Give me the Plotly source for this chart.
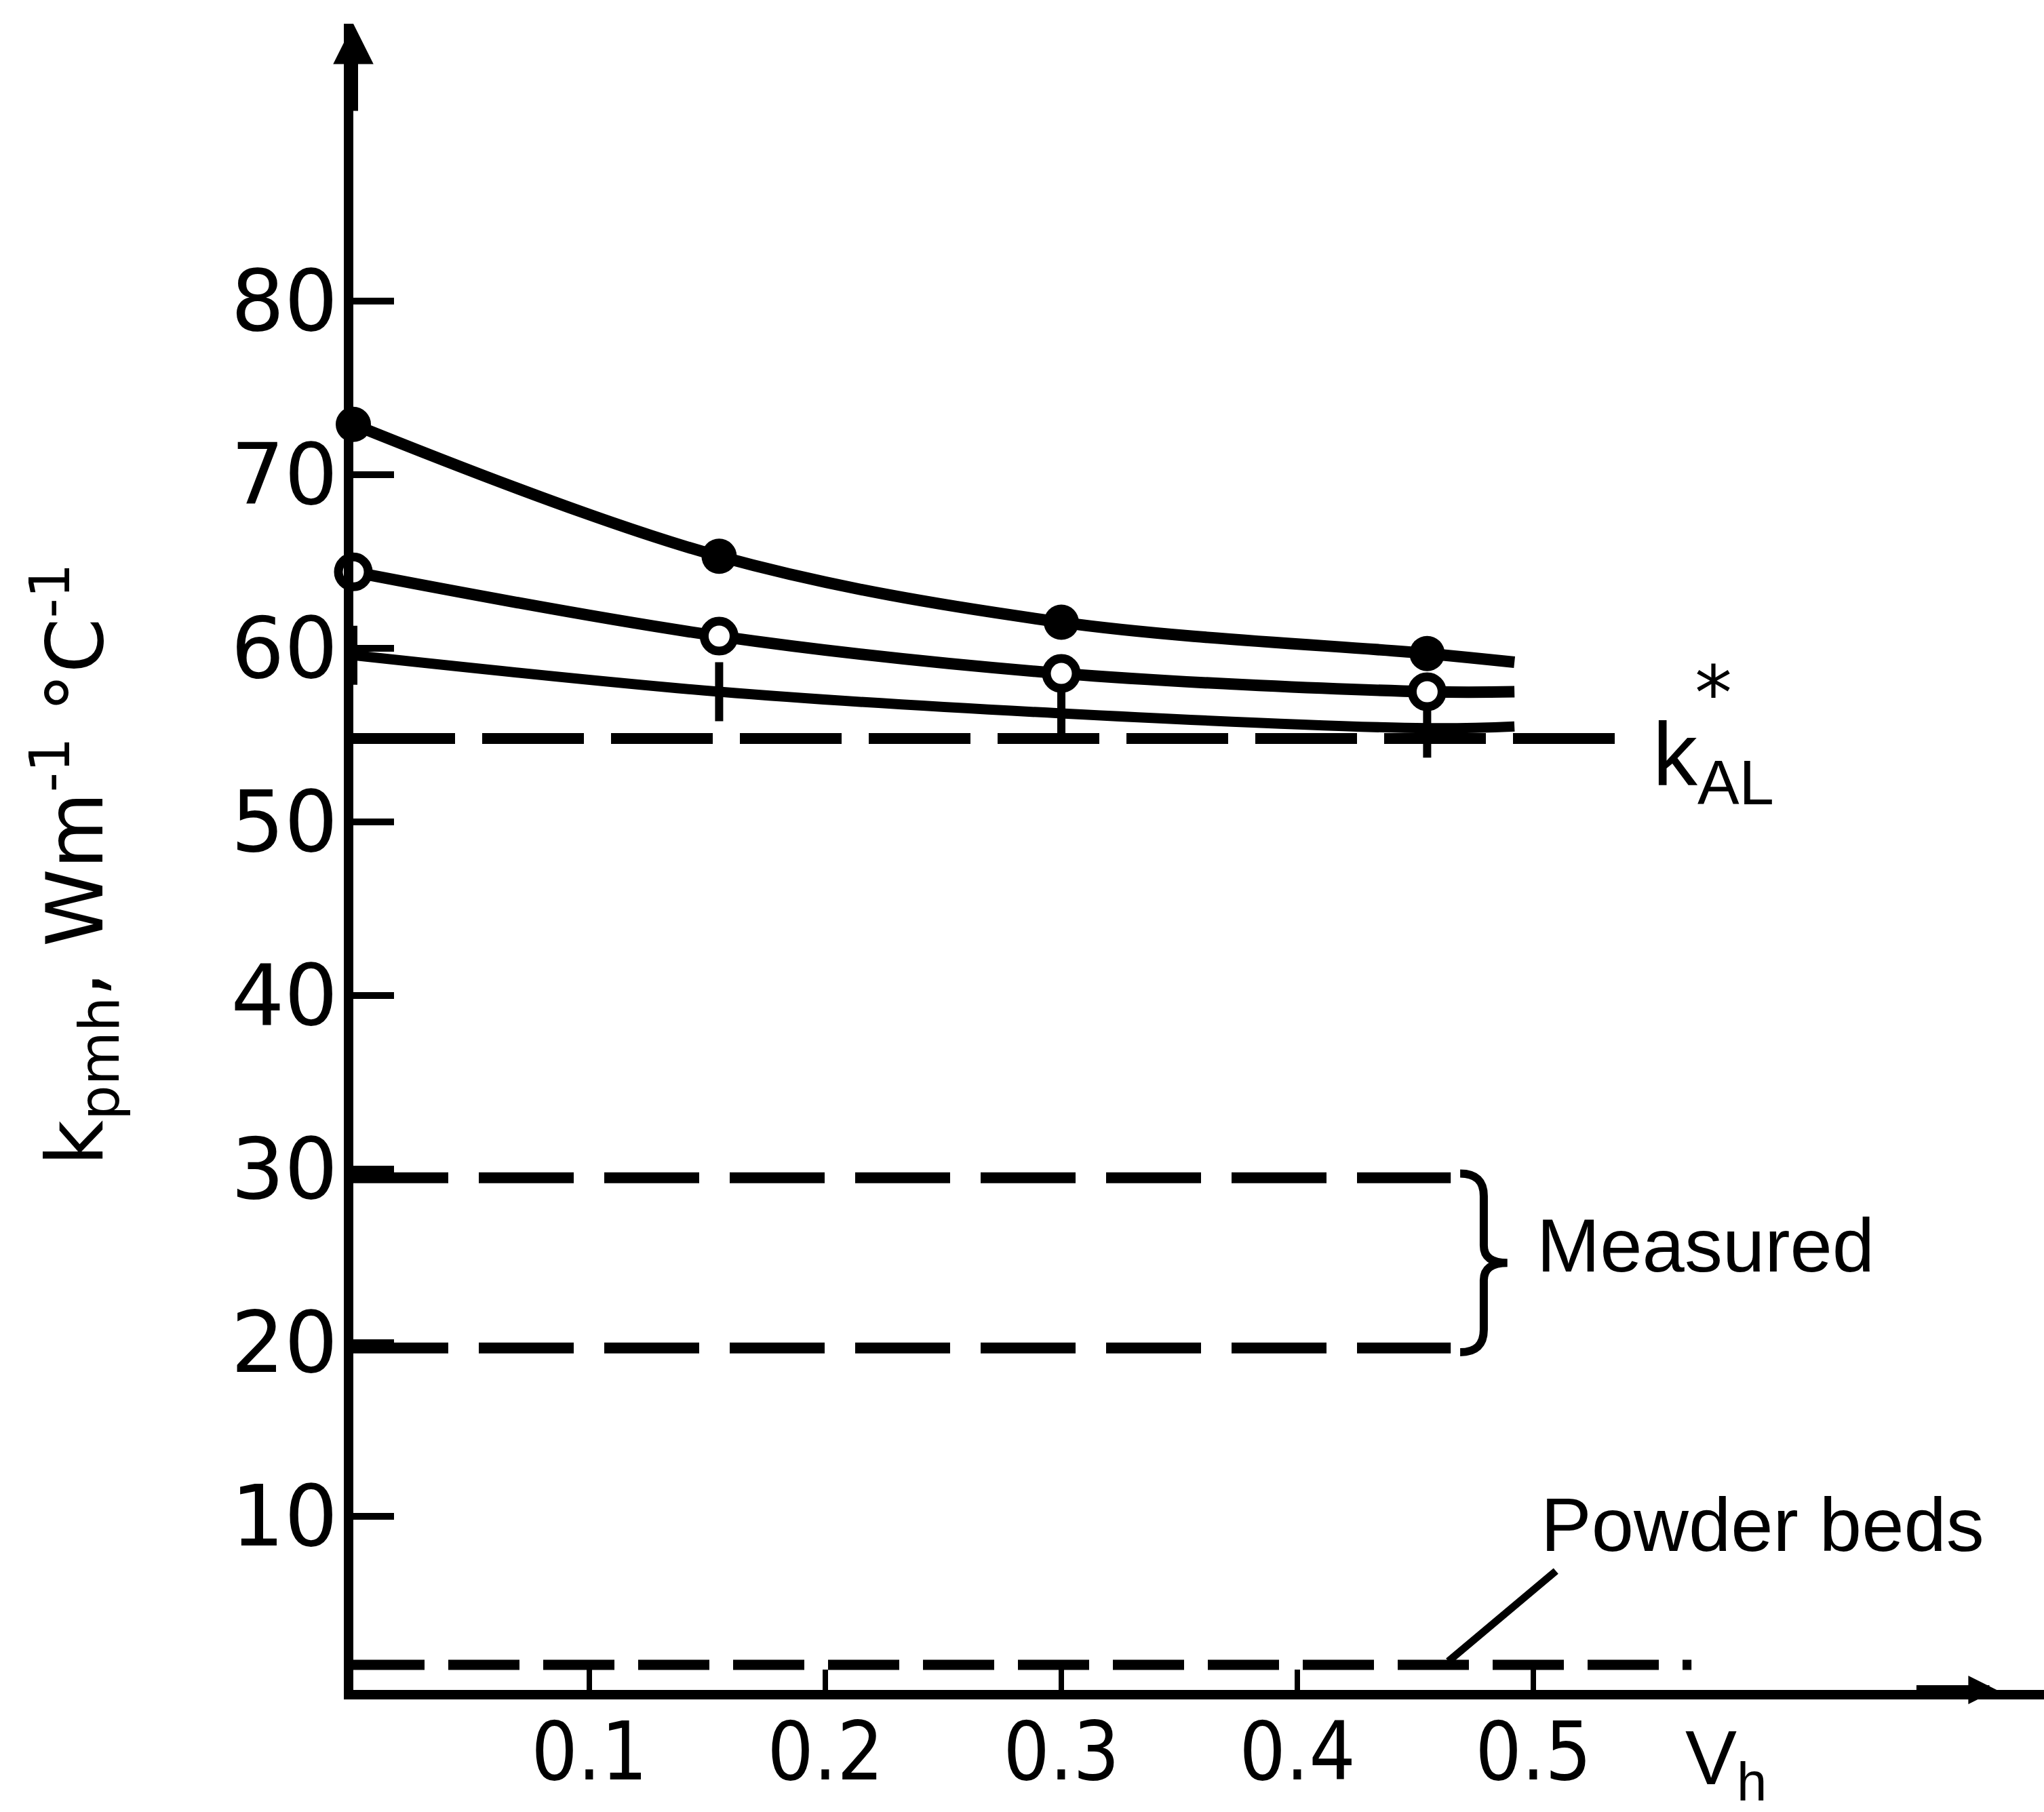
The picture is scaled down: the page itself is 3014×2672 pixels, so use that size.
import plotly.graph_objects as go

# ---- data ----
vh_points = [0.0, 0.155, 0.30, 0.455]
k_solid = [72.9, 65.3, 61.5, 59.7]
k_open = [64.4, 60.7, 58.55, 57.5]
k_cross = [59.6, 57.5, 56.25, 55.4]

vh_curve_end = 0.492
k_solid_end = 59.2
k_open_end = 57.5
k_cross_end = 55.5

k_al = 54.8
k_al_xend = 0.54

measured_k = [29.5, 19.7]
measured_xend = 0.465

powder_k = 1.45
powder_xend = 0.567

x_tickvals = [0.1, 0.2, 0.3, 0.4, 0.5]
x_ticktext = ["0.1", "0.2", "0.3", "0.4", "0.5"]
y_tickvals = [10, 20, 30, 40, 50, 60, 70, 80]

# ---- layout geometry ----
W, H = 3014, 2672
ML, MR, MT, MB = 521, 0, 35, 180
PW, PH = W - ML - MR, H - MT - MB
X_RANGE = [0, PW / 3480.0]
Y_RANGE = [0, PH / 25.6]

BLACK = "black"
NARROW = "DejaVu Sans Condensed, Liberation Sans Narrow, Arial Narrow, Liberation Sans, sans-serif"
fig = go.Figure()

# k_AL dashed line
fig.add_trace(go.Scatter(x=[0, k_al_xend], y=[k_al, k_al], mode="lines",
                         line=dict(color=BLACK, width=16, dash="150px,40px"),
                         hoverinfo="skip", showlegend=False))
# measured dashed lines
for kv in measured_k:
    fig.add_trace(go.Scatter(x=[0, measured_xend], y=[kv, kv], mode="lines",
                             line=dict(color=BLACK, width=16, dash="140px,45px"),
                             hoverinfo="skip", showlegend=False))
# powder beds dashed line
fig.add_trace(go.Scatter(x=[0, powder_xend], y=[powder_k, powder_k], mode="lines",
                         line=dict(color=BLACK, width=15, dash="105px,35px"),
                         hoverinfo="skip", showlegend=False))

# curves
for ys, yend, w in [(k_solid, k_solid_end, 17), (k_open, k_open_end, 17), (k_cross, k_cross_end, 15)]:
    fig.add_trace(go.Scatter(x=vh_points + [vh_curve_end], y=ys + [yend], mode="lines",
                             line=dict(color=BLACK, width=w, shape="spline", smoothing=1.0),
                             hoverinfo="skip", showlegend=False))

# markers
fig.add_trace(go.Scatter(x=vh_points, y=k_cross, mode="markers",
                         marker=dict(symbol="line-ns", size=62, line=dict(color=BLACK, width=12)),
                         showlegend=False, cliponaxis=False))
fig.add_trace(go.Scatter(x=vh_points, y=k_open, mode="markers",
                         marker=dict(symbol="circle", size=44, color="white",
                                     line=dict(color=BLACK, width=13)),
                         showlegend=False, cliponaxis=False))
fig.add_trace(go.Scatter(x=vh_points, y=k_solid, mode="markers",
                         marker=dict(symbol="circle", size=52, color=BLACK,
                                     line=dict(color=BLACK, width=0)),
                         showlegend=False, cliponaxis=False))

# brace for "Measured"
top = measured_k[0] + 0.25
bot = measured_k[1] - 0.25
mid = (top + bot) / 2
x0, x1, xt = measured_xend + 0.004, measured_xend + 0.014, measured_xend + 0.024
brace = (f"M {x0},{top} Q {x1},{top} {x1},{top-1.3} L {x1},{mid+1.0} "
         f"Q {x1},{mid} {xt},{mid} Q {x1},{mid} {x1},{mid-1.0} "
         f"L {x1},{bot+1.3} Q {x1},{bot} {x0},{bot}")
shapes = [dict(type="path", path=brace, xref="x", yref="y",
               line=dict(color=BLACK, width=12))]

txt_font = dict(family="Liberation Sans, Arial, sans-serif", size=112, color=BLACK)
annotations = [
    dict(x=measured_xend + 0.036, y=mid + 1.0, xref="x", yref="y", text="Measured",
         showarrow=False, xanchor="left", yanchor="middle", font=txt_font),
    dict(x=0.5026, y=9.5, xref="x", yref="y", text="Powder beds",
         showarrow=False, xanchor="left", yanchor="middle", font=txt_font),
    # leader line for powder beds
    dict(x=0.464, y=powder_k + 0.2, xref="x", yref="y", ax=0.51, ay=6.9,
         axref="x", ayref="y", text="", showarrow=True, arrowhead=0,
         arrowwidth=11, arrowcolor=BLACK),
    # k*_AL label
    dict(x=0.550, y=k_al - 1.3, xref="x", yref="y", text="k<sub>AL</sub>",
         showarrow=False, xanchor="left", yanchor="middle",
         font=dict(family="Liberation Sans, Arial, sans-serif", size=132, color=BLACK)),
    dict(x=0.5762, y=k_al + 2.6, xref="x", yref="y", text="*",
         showarrow=False, xanchor="center", yanchor="middle",
         font=dict(family="DejaVu Sans, sans-serif", size=110, color=BLACK)),
    # x axis name (paper coords: below the plot area)
    dict(x=(2483 - ML) / PW, y=-(2600 - (MT + PH)) / PH, xref="paper", yref="paper",
         text="V<sub>h</sub>",
         showarrow=False, xanchor="left", yanchor="middle",
         font=dict(family="Liberation Sans, Arial, sans-serif", size=114, color=BLACK)),
    # y axis title
    dict(x=(110 - ML) / PW, y=(2492 - 1275) / PH, xref="paper", yref="paper",
         text="k<sub>pmh</sub>, Wm<sup>-1</sup> °C<sup>-1</sup>", textangle=-90,
         showarrow=False, xanchor="center", yanchor="middle",
         font=dict(family="DejaVu Sans, sans-serif", size=116, color=BLACK)),
    # y axis arrowhead
    dict(x=0, y=Y_RANGE[1], xref="x", yref="y", ax=0, ay=130, text="",
         showarrow=True, arrowhead=2, arrowsize=0.85, arrowwidth=14, arrowcolor=BLACK),
    # x axis arrowhead
    dict(x=X_RANGE[1] - 0.02, y=0, xref="x", yref="y", ax=-120, ay=0, text="",
         showarrow=True, arrowhead=2, arrowsize=0.6, arrowwidth=14, arrowcolor=BLACK),
]

fig.update_layout(
    template="none",
    width=W, height=H,
    margin=dict(l=ML, r=MR, t=MT, b=MB, pad=0, autoexpand=False),
    paper_bgcolor="white", plot_bgcolor="white",
    showlegend=False,
    shapes=shapes,
    annotations=annotations,
    xaxis=dict(range=X_RANGE, showgrid=False, zeroline=False, automargin=False,
               showline=True, linewidth=14, linecolor=BLACK,
               ticks="inside", ticklen=30, tickwidth=8, tickcolor=BLACK,
               tickvals=x_tickvals, ticktext=x_ticktext,
               ticklabelstandoff=-26,
               tickfont=dict(family=NARROW, size=120, color=BLACK)),
    yaxis=dict(range=Y_RANGE, showgrid=False, zeroline=False, automargin=False,
               showline=True, linewidth=14, linecolor=BLACK,
               ticks="inside", ticklen=60, tickwidth=10, tickcolor=BLACK,
               tickvals=y_tickvals, ticklabelstandoff=-16,
               tickfont=dict(family="DejaVu Sans, sans-serif", size=124, color=BLACK)),
)

fig.write_html("out.html")
